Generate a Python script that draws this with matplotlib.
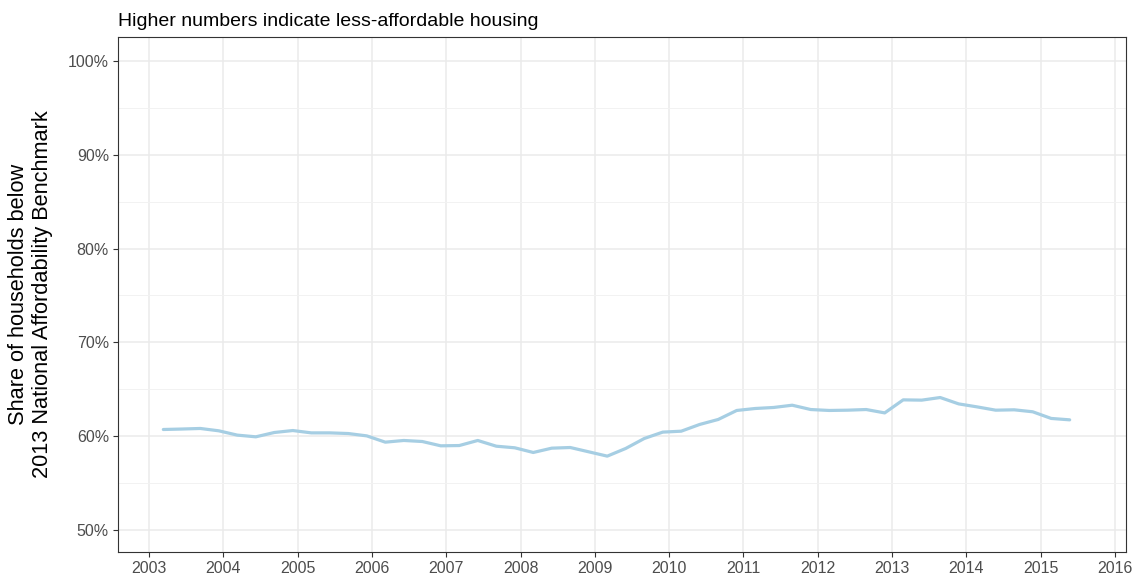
import matplotlib
matplotlib.use("Agg")
import matplotlib.pyplot as plt
import numpy as np
from matplotlib.ticker import FuncFormatter, MultipleLocator

plt.rcParams["font.family"] = ["Liberation Sans", "DejaVu Sans"]

# quarterly observations, first one at roughly 2003.19
start_year = 2003.19
share_pct = [
    60.71, 60.76, 60.82, 60.57, 60.11, 59.93, 60.39, 60.60, 60.35, 60.35,
    60.28, 60.03, 59.36, 59.54, 59.43, 58.97, 59.00, 59.54, 58.93, 58.76,
    58.26, 58.72, 58.79, 58.33, 57.87, 58.69, 59.75, 60.43, 60.53, 61.25,
    61.78, 62.74, 62.95, 63.06, 63.30, 62.84, 62.74, 62.77, 62.84, 62.48,
    63.87, 63.84, 64.12, 63.44, 63.12, 62.77, 62.81, 62.60, 61.89, 61.74,
]
years = start_year + 0.249 * np.arange(len(share_pct))

fig = plt.figure(figsize=(11.38, 5.8), dpi=100)
ax = fig.add_axes([0.1037, 0.0483, 0.8858, 0.8879])

ax.plot(years, share_pct, color="#a6cee3", lw=2.3, solid_capstyle="round", zorder=3)

ax.set_xlim(2002.58, 2016.15)
ax.set_ylim(47.65, 102.56)
ax.xaxis.set_major_locator(MultipleLocator(1))
ax.yaxis.set_major_locator(MultipleLocator(10))
ax.yaxis.set_minor_locator(MultipleLocator(5))
ax.yaxis.set_major_formatter(FuncFormatter(lambda v, _: f"{v:.0f}%"))

ax.grid(which="major", color="#ebebeb", lw=1.1, zorder=0)
ax.grid(which="minor", axis="y", color="#f2f2f2", lw=0.7, zorder=0)
ax.tick_params(which="minor", length=0)
ax.tick_params(which="major", length=3.5, width=0.8, color="#333333",
               labelsize=11.5, labelcolor="#4d4d4d", pad=3)
for s in ax.spines.values():
    s.set_color("#333333")
    s.set_linewidth(0.8)

ax.set_ylabel("Share of households below\n2013 National Affordability Benchmark",
              fontsize=15.7, color="black", labelpad=11, linespacing=1.15)
ax.set_title("Higher numbers indicate less-affordable housing",
             loc="left", fontsize=14, pad=8)

fig.savefig("out.png", dpi=100)
